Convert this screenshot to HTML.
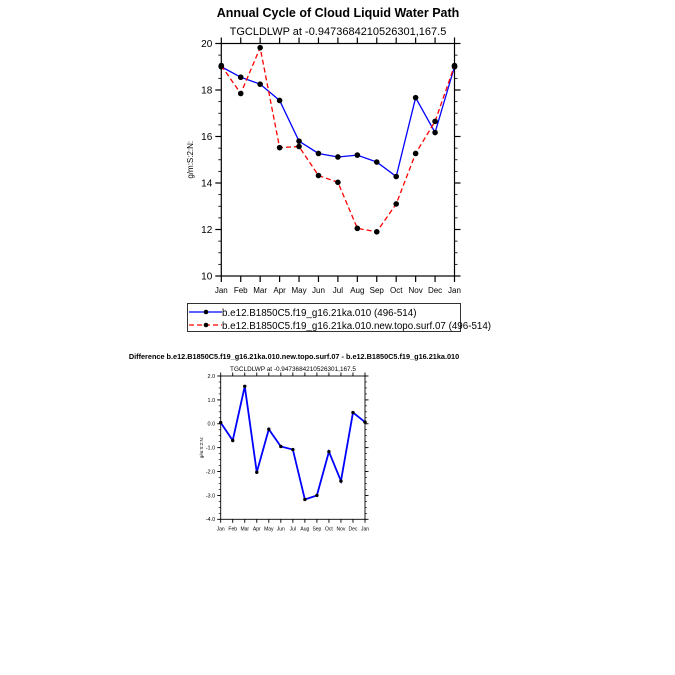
<!DOCTYPE html>
<html><head><meta charset="utf-8"><style>
body{margin:0;background:#fff;width:675px;height:675px;overflow:hidden}
svg{display:block;font-family:"Liberation Sans",Helvetica,sans-serif}
</style></head><body>
<svg id="s" width="675" height="675" viewBox="0 0 675 675">
<text x="338" y="17" text-anchor="middle" font-size="12.5" font-weight="bold">Annual Cycle of Cloud Liquid Water Path</text>
<text x="338" y="35" text-anchor="middle" font-size="11">TGCLDLWP at -0.9473684210526301,167.5</text>
<g>
<rect x="187.5" y="303.5" width="273" height="28" fill="#fff" stroke="#000" stroke-width="0.8"/>
<g>
<line x1="189" y1="312" x2="222" y2="312" stroke="#0000ff" stroke-width="1.3"/>
<circle cx="206" cy="312" r="2.3" fill="#000"/>
<text x="222" y="316" font-size="9.8">b.e12.B1850C5.f19_g16.21ka.010 (496-514)</text>
</g>
<g>
<line x1="189" y1="325" x2="222" y2="325" stroke="#ff0000" stroke-width="1.3" stroke-dasharray="5,3"/>
<circle cx="206" cy="325" r="2.3" fill="#000"/>
<text x="222" y="329" font-size="9.8">b.e12.B1850C5.f19_g16.21ka.010.new.topo.surf.07 (496-514)</text>
</g>
</g>
<text x="294" y="359" text-anchor="middle" font-size="7.3" font-weight="bold">Difference b.e12.B1850C5.f19_g16.21ka.010.new.topo.surf.07 - b.e12.B1850C5.f19_g16.21ka.010</text>
<text x="293" y="371" text-anchor="middle" font-size="6.4">TGCLDLWP at -0.9473684210526301,167.5</text>
</svg>
<script>
const months=["Jan","Feb","Mar","Apr","May","Jun","Jul","Aug","Sep","Oct","Nov","Dec","Jan"];
const controlValues=[19.0,18.55,18.25,17.55,15.8,15.27,15.12,15.2,14.9,14.28,17.67,16.17,19.0];
const topoValues=[19.05,17.85,19.82,15.52,15.57,14.32,14.03,12.05,11.9,13.1,15.27,16.65,19.05];
const topTicks=[10,12,14,16,18,20];
const topTickLabels=["10","12","14","16","18","20"];
const diffValues=[0.05,-0.7,1.57,-2.03,-0.23,-0.95,-1.08,-3.17,-3.0,-1.17,-2.4,0.47,0.07];
const diffTicks=[-4,-3,-2,-1,0,1,2];
const diffTickLabels=["-4.0","-3.0","-2.0","-1.0","0.0","1.0","2.0"];

const NS="http://www.w3.org/2000/svg";
const svg=document.getElementById('s');
function mk(tag,attrs,parent){const e=document.createElementNS(NS,tag);for(const k in attrs)e.setAttribute(k,attrs[k]);(parent||svg).appendChild(e);return e;}

function panel(cfg){
  const g=mk('g',{});
  
  
  const {x0,x1,y0,y1,ymin,ymax}=cfg;
  const xs=i=>x0+(x1-x0)*i/(months.length-1);
  const ys=v=>y1-(v-ymin)/(ymax-ymin)*(y1-y0);
  const sw=cfg.sw;
  for(let v=ymin;v<=ymax+1e-9;v+=cfg.minor){
    const y=ys(v);
    mk('line',{x1:x0,y1:y,x2:x0-cfg.mt,y2:y,stroke:'#000','stroke-width':sw*0.7},g);
    mk('line',{x1:x1,y1:y,x2:x1+cfg.mt,y2:y,stroke:'#000','stroke-width':sw*0.7},g);
  }
  cfg.ticks.forEach((v,i)=>{
    const y=ys(v);
    const t=mk('line',{x1:x0,y1:y,x2:x0-cfg.tl,y2:y,stroke:'#000','stroke-width':sw},g);
    
    
    mk('line',{x1:x1,y1:y,x2:x1+cfg.tl,y2:y,stroke:'#000','stroke-width':sw},g);
    const tx=mk('text',{x:x0-cfg.tl-cfg.lg,y:y+cfg.fs*0.35,'text-anchor':'end','font-size':cfg.fs},g);
    tx.textContent=cfg.labels[i];
    
    
  });
  months.forEach((m,i)=>{
    const x=xs(i);
    mk('line',{x1:x,y1:y1,x2:x,y2:y1+cfg.tl,stroke:'#000','stroke-width':sw},g);
    mk('line',{x1:x,y1:y0,x2:x,y2:y0-cfg.tl,stroke:'#000','stroke-width':sw},g);
    const tx=mk('text',{x:x,y:y1+cfg.xlo,'text-anchor':'middle','font-size':cfg.xfs},g);
    tx.textContent=m;
    
    
  });
  const fr=mk('rect',{x:x0,y:y0,width:x1-x0,height:y1-y0,fill:'none',stroke:'#000','stroke-width':sw},g);
  
  
  const yl=mk('text',{x:0,y:0,'text-anchor':'middle','font-size':cfg.yfs,transform:`translate(${cfg.ylx},${(y0+y1)/2}) rotate(-90)`},g);
  yl.textContent='g/m:S:2:N:';
  
  
  cfg.series.forEach(s=>{
    const pts=s.values.map((v,i)=>xs(i)+','+ys(v)).join(' ');
    const pl=mk('polyline',{points:pts,fill:'none',stroke:s.color,'stroke-width':s.w,'stroke-dasharray':s.dash||'none'},g);
    
    
    s.values.forEach((v,i)=>{
      const c=mk('circle',{cx:xs(i),cy:ys(v),r:s.r,fill:'#000'},g);
      
      
    });
  });
}
panel({name:'annual-cycle-panel',x0:221.3,x1:454.5,y0:43.5,y1:276,ymin:10,ymax:20,minor:0.5,mt:3,tl:6,lg:3,sw:1.2,
  ticks:topTicks,labels:topTickLabels,fs:10,xfs:8,xlo:17,yfs:8,ylx:193,
  series:[{name:'control-line',values:controlValues,color:'#0000ff',w:1.3,r:2.8},
          {name:'topo-line',values:topoValues,color:'#ff0000',w:1.3,dash:'5,3',r:2.8}]});
panel({name:'difference-panel',x0:220.7,x1:365,y0:376,y1:519.3,ymin:-4,ymax:2,minor:0.25,mt:2,tl:3.5,lg:2,sw:0.9,
  ticks:diffTicks,labels:diffTickLabels,fs:5.5,xfs:5,xlo:11,yfs:4.5,ylx:203,
  series:[{name:'difference-line',values:diffValues,color:'#0000ff',w:1.8,r:1.7}]});
</script>
</body></html>
